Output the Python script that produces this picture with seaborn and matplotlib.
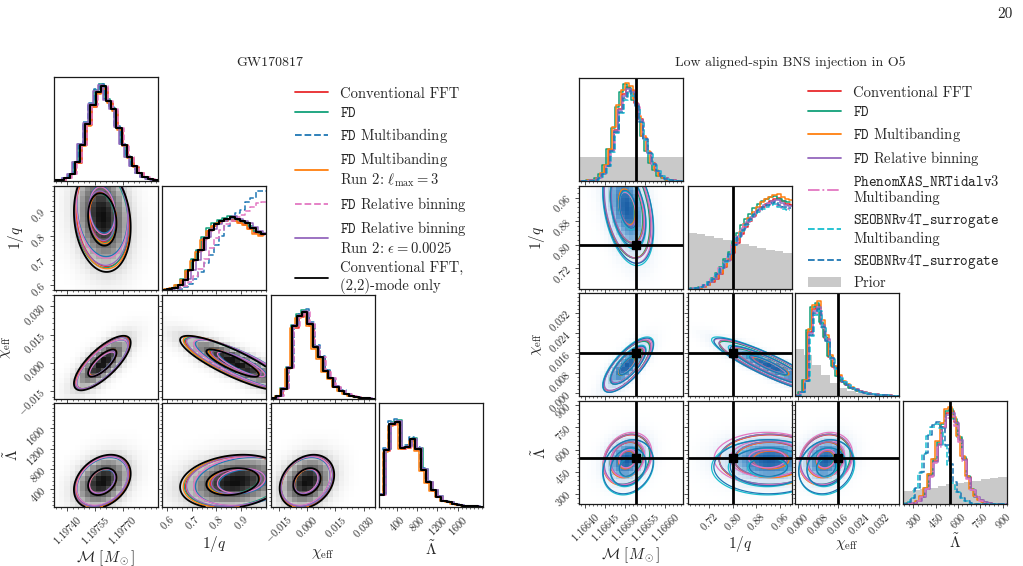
import numpy as np
import matplotlib
matplotlib.use("Agg")
import matplotlib.pyplot as plt
import seaborn as sns
from matplotlib.lines import Line2D
from matplotlib.patches import Patch
from matplotlib.colors import LinearSegmentedColormap
from matplotlib.ticker import FixedLocator, AutoMinorLocator, FuncFormatter

# ---------------- GW170817 (left corner) ----------------
gw_labels = [r"$\mathcal{M}\ [M_\odot]$", r"$1/q$", r"$\chi_{\rm eff}$", r"$\tilde{\Lambda}$"]
gw_ranges = [(1.19733, 1.19789), (0.58, 1.0), (-0.019, 0.036), (50, 2100)]
gw_ticks = [[1.19740, 1.19755, 1.19770], [0.6, 0.7, 0.8, 0.9],
            [-0.015, 0.0, 0.015, 0.030], [400, 800, 1200, 1600]]
gw_fmt = ["%.5f", "%.1f", "%.3f", "%d"]

# 1D histograms, 20 bins over the axis range, heights as fraction of panel height
gw_hist_mc = [0.005, 0.01, 0.03, 0.07, 0.18, 0.35, 0.55, 0.73, 0.86, 0.91,
              0.77, 0.69, 0.51, 0.35, 0.23, 0.14, 0.075, 0.035, 0.018, 0.008]
gw_hist_q = [0.0, 0.005, 0.02, 0.05, 0.1, 0.19, 0.29, 0.38, 0.5, 0.58,
             0.63, 0.66, 0.68, 0.7, 0.68, 0.66, 0.64, 0.6, 0.56, 0.54]
gw_hist_q_mb = [0.0, 0.0, 0.005, 0.01, 0.03, 0.06, 0.1, 0.17, 0.25, 0.33,
                0.42, 0.5, 0.6, 0.68, 0.72, 0.75, 0.82, 0.86, 0.92, 0.92]
gw_hist_q_rb = [0.0, 0.0, 0.005, 0.015, 0.04, 0.08, 0.13, 0.2, 0.3, 0.4,
                0.5, 0.58, 0.63, 0.66, 0.7, 0.72, 0.76, 0.8, 0.84, 0.85]
gw_hist_chi = [0.01, 0.03, 0.1, 0.3, 0.7, 0.8, 0.84, 0.72, 0.5, 0.4,
               0.27, 0.2, 0.12, 0.08, 0.05, 0.03, 0.015, 0.01, 0.005, 0.003]
gw_hist_lam = [0.12, 0.55, 0.8, 0.82, 0.57, 0.58, 0.65, 0.56, 0.36, 0.24,
               0.16, 0.1, 0.06, 0.045, 0.03, 0.02, 0.012, 0.008, 0.005, 0.003]

# 2D shape: centre, width, correlations
gw_mean = [1.19759, 0.875, 0.0, 550.0]
gw_sd = [0.000072, 0.10, 0.0068, 250.0]
gw_rho = {(0, 1): -0.15, (0, 2): 0.75, (0, 3): 0.3, (1, 2): -0.85, (1, 3): 0.2, (2, 3): 0.25}

gw_names = ["Conventional FFT", r"$\mathtt{FD}$", r"$\mathtt{FD}$ Multibanding",
            "$\\mathtt{FD}$ Multibanding\nRun 2: $\\ell_{\\rm max}=3$",
            r"$\mathtt{FD}$ Relative binning",
            "$\\mathtt{FD}$ Relative binning\nRun 2: $\\epsilon=0.0025$",
            "Conventional FFT,\n(2,2)-mode only"]
gw_colors = ["#e8292c", "#11a07a", "#1f77b4", "#ff7f0e", "#e377c2", "#9467bd", "black"]
gw_styles = ["-", "-", "--", "-", "--", "-", "-"]
gw_shift = [[0.3, -0.4, 0.3, 0.2], [-0.3, -0.5, -0.2, 0.4], [-0.4, 0.0, 0.4, -0.2],
            [0.1, -0.6, -0.3, -0.3], [0.4, 0.0, 0.5, 0.3], [-0.5, 0.5, 0.15, 0.35],
            [0.0, 0.0, 0.0, 0.0]]
gw_peak = [0.98, 1.02, 1.03, 0.97, 1.0, 1.01, 1.0]
gw_offset = [[0.05, 0.0, 0.0, 0.0], [-0.05, -0.05, 0.0, 0.05], [0.0, 0.3, -0.1, 0.0],
             [0.05, -0.05, 0.05, 0.0], [0.0, 0.25, -0.1, 0.05], [-0.05, 0.05, 0.0, 0.05],
             [0.0, -0.1, 0.0, 0.0]]
gw_scale = [1.0, 1.0, 0.95, 1.02, 0.96, 1.0, 1.06]
gw_special = {2: {1: gw_hist_q_mb}, 4: {1: gw_hist_q_rb}}

# ---------------- O5 injection (right corner) ----------------
o5_ranges = [(1.166385, 1.166645), (0.65, 1.0), (-0.001, 0.040), (230, 930)]
o5_ticks = [[1.16640, 1.16645, 1.16650, 1.16655, 1.16660], [0.72, 0.80, 0.88, 0.96],
            [0.0, 0.008, 0.016, 0.024, 0.032], [300, 450, 600, 750, 900]]
o5_fmt = ["%.5f", "%.2f", "%.3f", "%d"]
o5_truth = [1.1665275, 0.80, 0.016, 543]

# 25 bins over the axis range
o5_hist_mc = [0.0, 0.0, 0.005, 0.01, 0.03, 0.07, 0.15, 0.3, 0.5, 0.7, 0.84, 0.91, 0.88,
              0.76, 0.6, 0.42, 0.28, 0.17, 0.1, 0.05, 0.025, 0.01, 0.005, 0.0, 0.0]
o5_hist_q = [0.0, 0.005, 0.01, 0.02, 0.04, 0.07, 0.1, 0.15, 0.21, 0.28, 0.35, 0.45, 0.53,
             0.6, 0.66, 0.71, 0.76, 0.8, 0.83, 0.85, 0.87, 0.88, 0.85, 0.83, 0.82]
o5_hist_chi = [0.005, 0.04, 0.15, 0.62, 0.84, 0.88, 0.7, 0.56, 0.38, 0.28, 0.19, 0.14, 0.11,
               0.08, 0.065, 0.045, 0.035, 0.025, 0.02, 0.015, 0.01, 0.007, 0.005, 0.003, 0.002]
o5_hist_lam = [0.0, 0.005, 0.01, 0.03, 0.07, 0.15, 0.28, 0.42, 0.58, 0.75, 0.88, 0.9, 0.8,
               0.63, 0.44, 0.26, 0.14, 0.07, 0.035, 0.015, 0.005, 0.0, 0.0, 0.0, 0.0]
o5_hist_lam_seob = [0.005, 0.02, 0.06, 0.16, 0.32, 0.52, 0.7, 0.8, 0.83, 0.78, 0.6, 0.4, 0.22,
                    0.12, 0.06, 0.03, 0.01, 0.0, 0.0, 0.0, 0.0, 0.0, 0.0, 0.0, 0.0]
# priors, 12 bins over the axis range
o5_prior_mc = [0.23, 0.23, 0.23, 0.235, 0.23, 0.23, 0.23, 0.23, 0.235, 0.23, 0.23, 0.23]
o5_prior_q = [0.54, 0.53, 0.51, 0.5, 0.48, 0.46, 0.44, 0.42, 0.4, 0.38, 0.37, 0.35]
o5_prior_chi = [0.46, 0.4, 0.3, 0.2, 0.13, 0.08, 0.05, 0.03, 0.02, 0.012, 0.008, 0.005]
o5_prior_lam = [0.13, 0.14, 0.15, 0.16, 0.17, 0.19, 0.2, 0.21, 0.22, 0.24, 0.25, 0.26]

o5_mean = [1.166505, 0.925, 0.011, 530.0]
o5_sd = [0.000029, 0.085, 0.005, 85.0]
o5_rho = {(0, 1): -0.35, (0, 2): 0.75, (0, 3): 0.2, (1, 2): -0.9, (1, 3): 0.0, (2, 3): 0.15}

o5_names = ["Conventional FFT", r"$\mathtt{FD}$", r"$\mathtt{FD}$ Multibanding",
            r"$\mathtt{FD}$ Relative binning",
            "$\\mathtt{PhenomXAS\\_NRTidalv3}$\nMultibanding",
            "$\\mathtt{SEOBNRv4T\\_surrogate}$\nMultibanding",
            r"$\mathtt{SEOBNRv4T\_surrogate}$"]
o5_colors = ["#e8292c", "#11a07a", "#ff7f0e", "#9467bd", "#e377c2", "#17becf", "#1f77b4"]
o5_styles = ["-", "-", "-", "-", "-.", "--", "--"]
o5_shift = [[0.3, 0.4, 0.0, 0.3], [-0.4, -0.5, -0.3, 0.1], [0.0, 0.3, 0.2, -0.2],
            [0.4, 0.0, 0.3, 0.45], [0.6, -0.7, 0.4, 0.2], [0.7, -0.5, 0.5, -0.4],
            [0.5, -0.3, 0.3, 0.0]]
o5_peak = [1.0, 1.03, 1.05, 0.98, 0.95, 0.94, 0.96]
o5_offset = [[0.0, 0.0, 0.0, 0.0], [-0.05, 0.0, -0.05, 0.05], [0.0, 0.05, 0.0, 0.0],
             [0.05, 0.0, 0.05, 0.05], [0.05, -0.1, 0.05, 0.1], [0.1, -0.1, 0.1, -0.6],
             [0.1, -0.05, 0.05, -0.55]]
o5_scale = [1.0, 1.0, 1.02, 1.0, 1.05, 1.1, 1.08]
o5_special = {5: {3: o5_hist_lam_seob}, 6: {3: o5_hist_lam_seob}}

W, H = 1023, 566
gw_cols, gw_rows, gw_size = [54, 162, 271, 379], [77, 186, 295, 403], (104, 104)
o5_cols, o5_rows, o5_size = [579, 688, 795, 903], [78, 186, 293, 401], (104, 103)

sns.set_theme(style="ticks")
plt.rcParams["font.family"] = ["cmr10", "DejaVu Serif"]
plt.rcParams["mathtext.fontset"] = "cm"
plt.rcParams["axes.formatter.use_mathtext"] = True
plt.rcParams["axes.unicode_minus"] = False

fig = plt.figure(figsize=(W / 100, H / 100), dpi=100)
blue_cmap = LinearSegmentedColormap.from_list("wb", ["#ffffff", "#cfe1f2", "#5d9cd0", "#1b5fa6"])


def gauss2d(X, Y, mx, my, sx, sy, rho):
    dx = (X - mx) / sx
    dy = (Y - my) / sy
    return np.exp(-0.5 * (dx ** 2 - 2 * rho * dx * dy + dy ** 2) / (1 - rho ** 2))


def style_axis(axis, ticks, fmt, show):
    axis.set_major_locator(FixedLocator(ticks))
    axis.set_minor_locator(AutoMinorLocator(5))
    axis.set_major_formatter(FuncFormatter(lambda v, p, f=fmt: "$" + (f % v) + "$"))
    if not show:
        axis.set_major_formatter(FuncFormatter(lambda v, p: ""))


def corner(cols, rows, size, ranges, ticks, fmts, hists, names, colors, styles,
           shifts, peaks, offsets, scales, special, mean, sd, rho, radii, cmap, nb,
           priors=None, truth=None, gamma=0.6, vmax=1.15):
    n = 4
    levels = sorted(np.exp(-0.5 * np.array(radii) ** 2))
    for i in range(n):
        for j in range(i + 1):
            x0, y0 = cols[j], rows[i]
            ax = fig.add_axes([x0 / W, 1 - (y0 + size[1]) / H, size[0] / W, size[1] / H])
            lo, hi = ranges[j]
            if i == j:
                if priors is not None:
                    pe = np.linspace(lo, hi, len(priors[i]) + 1)
                    sns.histplot(x=0.5 * (pe[1:] + pe[:-1]), weights=priors[i], bins=list(pe),
                                 element="step", fill=True, color="#c9c9c9", alpha=1,
                                 linewidth=0, ax=ax)
                for k in range(len(names)):
                    h = np.array(special.get(k, {}).get(i, hists[i])) * peaks[k]
                    step = (hi - lo) / nb
                    e = np.linspace(lo, hi, nb + 1) + shifts[k][i] * step
                    sns.histplot(x=0.5 * (e[1:] + e[:-1]), weights=h, bins=list(e),
                                 element="step", fill=False, color=colors[k],
                                 linestyle=styles[k],
                                 linewidth=1.5 if colors[k] == "black" else 1.1, ax=ax)
                ax.set_ylim(0, 1)
                ax.set_yticks([])
                ax.set_ylabel("")
                if truth is not None:
                    ax.axvline(truth[i], color="black", lw=2)
            else:
                ylo, yhi = ranges[i]
                xc = np.linspace(lo, hi, 150)
                yc = np.linspace(ylo, yhi, 150)
                X, Y = np.meshgrid(xc, yc)
                r = rho[(j, i)]
                xe = np.linspace(lo, hi, nb + 1)
                ye = np.linspace(ylo, yhi, nb + 1)
                Xm, Ym = np.meshgrid(0.5 * (xe[1:] + xe[:-1]), 0.5 * (ye[1:] + ye[:-1]))
                D = gauss2d(Xm, Ym, mean[j], mean[i], sd[j], sd[i], r) ** gamma
                ax.pcolormesh(xe, ye, D, cmap=cmap, vmin=0, vmax=vmax, shading="flat")
                for k in range(len(names)):
                    mx = mean[j] + offsets[k][j] * sd[j]
                    my = mean[i] + offsets[k][i] * sd[i]
                    Z = gauss2d(X, Y, mx, my, sd[j] * scales[k], sd[i] * scales[k], r)
                    ax.contour(X, Y, Z, levels=levels, colors=[colors[k]],
                               linewidths=1.3 if colors[k] == "black" else 0.9)
                ax.set_ylim(ylo, yhi)
                if truth is not None:
                    ax.axvline(truth[j], color="black", lw=2)
                    ax.axhline(truth[i], color="black", lw=2)
                    ax.plot(truth[j], truth[i], "s", color="black", ms=6)
                style_axis(ax.yaxis, ticks[i], fmts[i], j == 0)
                if j == 0:
                    ax.set_ylabel(gw_labels[i], fontsize=11, labelpad=2)
                    for t in ax.get_yticklabels():
                        t.set_rotation(45)
                        t.set_fontsize(7.5)
            ax.set_xlim(lo, hi)
            style_axis(ax.xaxis, ticks[j], fmts[j], i == n - 1)
            if i == n - 1:
                ax.set_xlabel(gw_labels[j], fontsize=11, labelpad=1)
                for t in ax.get_xticklabels():
                    t.set_rotation(45)
                    t.set_fontsize(7.5)
            else:
                ax.set_xlabel("")
            ax.tick_params(which="major", direction="out", length=3, width=0.6, color="0.2",
                           pad=1.5)
            ax.tick_params(which="minor", direction="out", length=1.6, width=0.5, color="0.2")
            if i == j:
                ax.tick_params(axis="y", which="both", left=False)
            for s in ax.spines.values():
                s.set_linewidth(0.9)
                s.set_color("0.1")


corner(gw_cols, gw_rows, gw_size, gw_ranges, gw_ticks, gw_fmt,
       [gw_hist_mc, gw_hist_q, gw_hist_chi, gw_hist_lam], gw_names, gw_colors, gw_styles,
       gw_shift, gw_peak, gw_offset, gw_scale, gw_special, gw_mean, gw_sd, gw_rho, [1.0, 2.0],
       "Greys", 20, gamma=0.55, vmax=1.05)

corner(o5_cols, o5_rows, o5_size, o5_ranges, o5_ticks, o5_fmt,
       [o5_hist_mc, o5_hist_q, o5_hist_chi, o5_hist_lam], o5_names, o5_colors, o5_styles,
       o5_shift, o5_peak, o5_offset, o5_scale, o5_special, o5_mean, o5_sd, o5_rho,
       [0.7, 1.4, 2.0], blue_cmap, 25,
       priors=[o5_prior_mc, o5_prior_q, o5_prior_chi, o5_prior_lam],
       truth=o5_truth, gamma=0.8, vmax=1.0)

fig.text(270 / W, 1 - 63 / H, "GW170817", ha="center", va="center", fontsize=10)
fig.text(790 / W, 1 - 63 / H, "Low aligned-spin BNS injection in O5", ha="center",
         va="center", fontsize=10)
fig.text(1005 / W, 1 - 14 / H, "20", ha="center", va="center", fontsize=11)

gw_handles = [Line2D([], [], color=c, ls=s, lw=1.3) for c, s in zip(gw_colors, gw_styles)]
fig.legend(gw_handles, gw_names, loc="upper left", bbox_to_anchor=(289 / W, 1 - 81 / H),
           frameon=False, fontsize=10.5, handlelength=2.3, handletextpad=0.8,
           labelspacing=0.38, borderaxespad=0)

o5_handles = [Line2D([], [], color=c, ls=s, lw=1.3) for c, s in zip(o5_colors, o5_styles)]
o5_handles.append(Patch(facecolor="#c9c9c9", edgecolor="none"))
fig.legend(o5_handles, o5_names + ["Prior"], loc="upper left",
           bbox_to_anchor=(802 / W, 1 - 80 / H), frameon=False, fontsize=10.5,
           handlelength=2.3, handletextpad=0.8, labelspacing=0.38, borderaxespad=0)

fig.savefig("out.png", dpi=100)
